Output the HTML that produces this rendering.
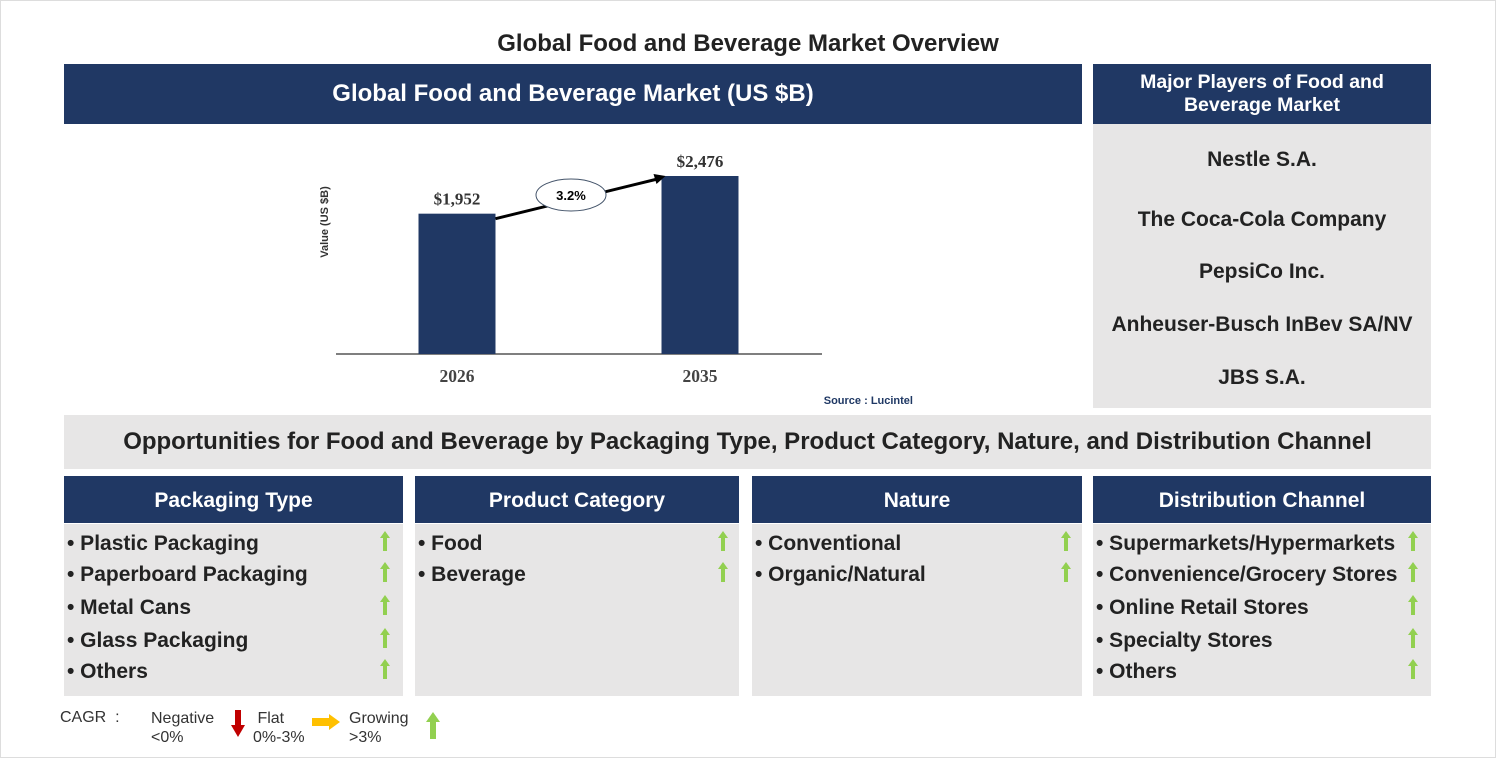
<!DOCTYPE html>
<html><head><meta charset="utf-8"><style>
body{margin:0;width:1496px;height:758px;background:#fff;position:relative;font-family:"Liberation Sans",Arial,sans-serif;overflow:hidden}
.a{position:absolute}
.hd{background:#203864;color:#fff;font-weight:bold;display:flex;align-items:center;justify-content:center;text-align:center}
.gr{background:#e7e6e6}
.it{position:absolute;font-size:21px;font-weight:bold;color:#222}
.up{position:absolute;width:10px;height:20px}
.pl{position:absolute;left:0;width:338px;text-align:center;font-size:21px;font-weight:bold;color:#222}
</style></head><body>
<div class="a" style="left:0;top:0;width:1494px;height:756px;border:1px solid #ddd"></div>
<div class="a" style="left:0;top:30px;width:1496px;text-align:center;font-size:24px;font-weight:bold;color:#222">Global Food and Beverage Market Overview</div>
<div class="a hd" style="left:64px;top:64px;width:1018px;height:60px;font-size:24px">Global Food and Beverage Market (US $B)</div>
<div class="a hd" style="left:1093px;top:64px;width:338px;height:60px;font-size:19.5px;line-height:23px">Major Players of Food and<br>Beverage Market</div>
<div class="a gr" style="left:1093px;top:124px;width:338px;height:284px">
<div class="pl" style="top:24px">Nestle S.A.</div>
<div class="pl" style="top:84px">The Coca-Cola Company</div>
<div class="pl" style="top:136px">PepsiCo Inc.</div>
<div class="pl" style="top:189px">Anheuser-Busch InBev SA/NV</div>
<div class="pl" style="top:242px">JBS S.A.</div>
</div>
<svg class="a" style="left:0;top:0" width="1496" height="420" id="chart"></svg>
<div class="a gr" style="left:64px;top:415px;width:1367px;height:54px;display:flex;align-items:center;justify-content:center;font-size:24px;font-weight:bold;color:#222">Opportunities for Food and Beverage by Packaging Type, Product Category, Nature, and Distribution Channel</div>
<div id="cols"></div>
<div class="a" style="left:60px;top:709px;font-size:16px;color:#333">CAGR&nbsp; :</div>
<div class="a" style="left:151px;top:709px;font-size:16px;color:#333;line-height:19px">Negative<br>&lt;0%</div>
<svg class="a" style="left:231px;top:710px" width="14" height="28"><rect x="4" y="0" width="6" height="16" fill="#c00000"/><polygon points="0,15 14,15 7,27" fill="#c00000"/></svg>
<div class="a" style="left:253px;top:709px;font-size:16px;color:#333;line-height:19px">&nbsp;Flat<br>0%-3%</div>
<svg class="a" style="left:312px;top:714px" width="28" height="16"><rect x="0" y="4" width="18" height="8" fill="#ffc000"/><polygon points="17,0 28,8 17,16" fill="#ffc000"/></svg>
<div class="a" style="left:349px;top:709px;font-size:16px;color:#333;line-height:19px">Growing<br>&gt;3%</div>
<svg class="a" style="left:426px;top:712px" width="14" height="27"><polygon points="7,0 14,10 0,10" fill="#92d050"/><rect x="4" y="9" width="6" height="18" fill="#92d050"/></svg>
<script>
const categories=["2026","2035"];
const values=[1952,2476];
const labels=["$1,952","$2,476"];
const cagr="3.2%";
const ns="http://www.w3.org/2000/svg";
const svg=document.getElementById('chart');
const base=354,scale=178/2476,xs=[457,700],bw=77;
const y=v=>base-v*scale;
function mk(t,a){const e=document.createElementNS(ns,t);for(const k in a)e.setAttribute(k,a[k]);svg.appendChild(e);return e;}
const ax=mk('line',{x1:336,y1:base,x2:822,y2:base,stroke:'#333','stroke-width':1.2});


const yt=mk('text',{x:0,y:0,transform:'translate(328,222) rotate(-90)','text-anchor':'middle','font-size':11,'font-weight':'bold',fill:'#333','font-family':'Liberation Sans'});
yt.textContent='Value (US $B)';


categories.forEach((c,i)=>{
 const r=mk('rect',{x:xs[i]-bw/2,y:y(values[i]),width:bw,height:values[i]*scale,fill:'#203864'});
 
 
 const t=mk('text',{x:xs[i],y:y(values[i])-9,'text-anchor':'middle','font-size':17,'font-weight':'bold',fill:'#333','font-family':'Liberation Serif'});
 t.textContent=labels[i];
 
 
 const l=mk('text',{x:xs[i],y:382,'text-anchor':'middle','font-size':17.5,'font-weight':'bold',fill:'#444','font-family':'Liberation Serif'});
 l.textContent=c;
 
 
});
const x1=xs[0]+bw/2,y1=y(values[0])+5,x2=xs[1]-bw/2+4,y2=y(values[1]);
const ar=mk('line',{x1:x1,y1:y1,x2:x2-8,y2:y2+3,stroke:'#000','stroke-width':3});


mk('polygon',{points:`${x2},${y2} ${x2-12},${y2-2} ${x2-9},${y2+8}`,fill:'#000'});
const el=mk('ellipse',{cx:571,cy:195,rx:35,ry:16,fill:'#fff',stroke:'#44546a','stroke-width':1});


const ct=mk('text',{x:571,y:200,'text-anchor':'middle','font-size':13,'font-weight':'bold',fill:'#000','font-family':'Liberation Sans'});
ct.textContent=cagr;


const src=mk('text',{x:913,y:404,'text-anchor':'end','font-size':11,'font-weight':'bold',fill:'#1f3864','font-family':'Liberation Sans'});
src.textContent='Source : Lucintel';



const cols=[
 {t:"Packaging Type",x:64,w:339,ax:385,items:["Plastic Packaging","Paperboard Packaging","Metal Cans","Glass Packaging","Others"]},
 {t:"Product Category",x:415,w:324,ax:723,items:["Food","Beverage"]},
 {t:"Nature",x:752,w:330,ax:1066,items:["Conventional","Organic/Natural"]},
 {t:"Distribution Channel",x:1093,w:338,ax:1413,items:["Supermarkets/Hypermarkets","Convenience/Grocery Stores","Online Retail Stores","Specialty Stores","Others"]}];
const iy=[543,574,607,640,671];
const box=document.getElementById('cols');
cols.forEach(c=>{
 const slug=c.t.toLowerCase().replace(/\W+/g,'-');
 const h=document.createElement('div');h.className='a hd';
 h.style.cssText=`left:${c.x}px;top:476px;width:${c.w}px;height:47px;font-size:21px;padding-top:2px;box-sizing:border-box`;
 h.textContent=c.t;
 
 
 box.appendChild(h);
 const b=document.createElement('div');b.className='a gr';
 b.style.cssText=`left:${c.x}px;top:524px;width:${c.w}px;height:172px`;
 
 
 box.appendChild(b);
 c.items.forEach((it,i)=>{
  const d=document.createElement('div');d.className='it';
  d.style.cssText=`left:${c.x+3}px;top:${iy[i]-11}px`;
  d.textContent='• '+it;
  
  
  box.appendChild(d);
  const a=document.createElementNS(ns,'svg');a.setAttribute('class','up');
  a.setAttribute('width','10');a.setAttribute('height','20');
  a.style.left=(c.ax-5)+'px';a.style.top=(iy[i]-12)+'px';
  a.innerHTML='<polygon points="5,0 10,7 0,7" fill="#92d050"/><rect x="3" y="6" width="4" height="14" fill="#92d050"/>';
  
  
  box.appendChild(a);
 });
});
</script>
</body></html>
